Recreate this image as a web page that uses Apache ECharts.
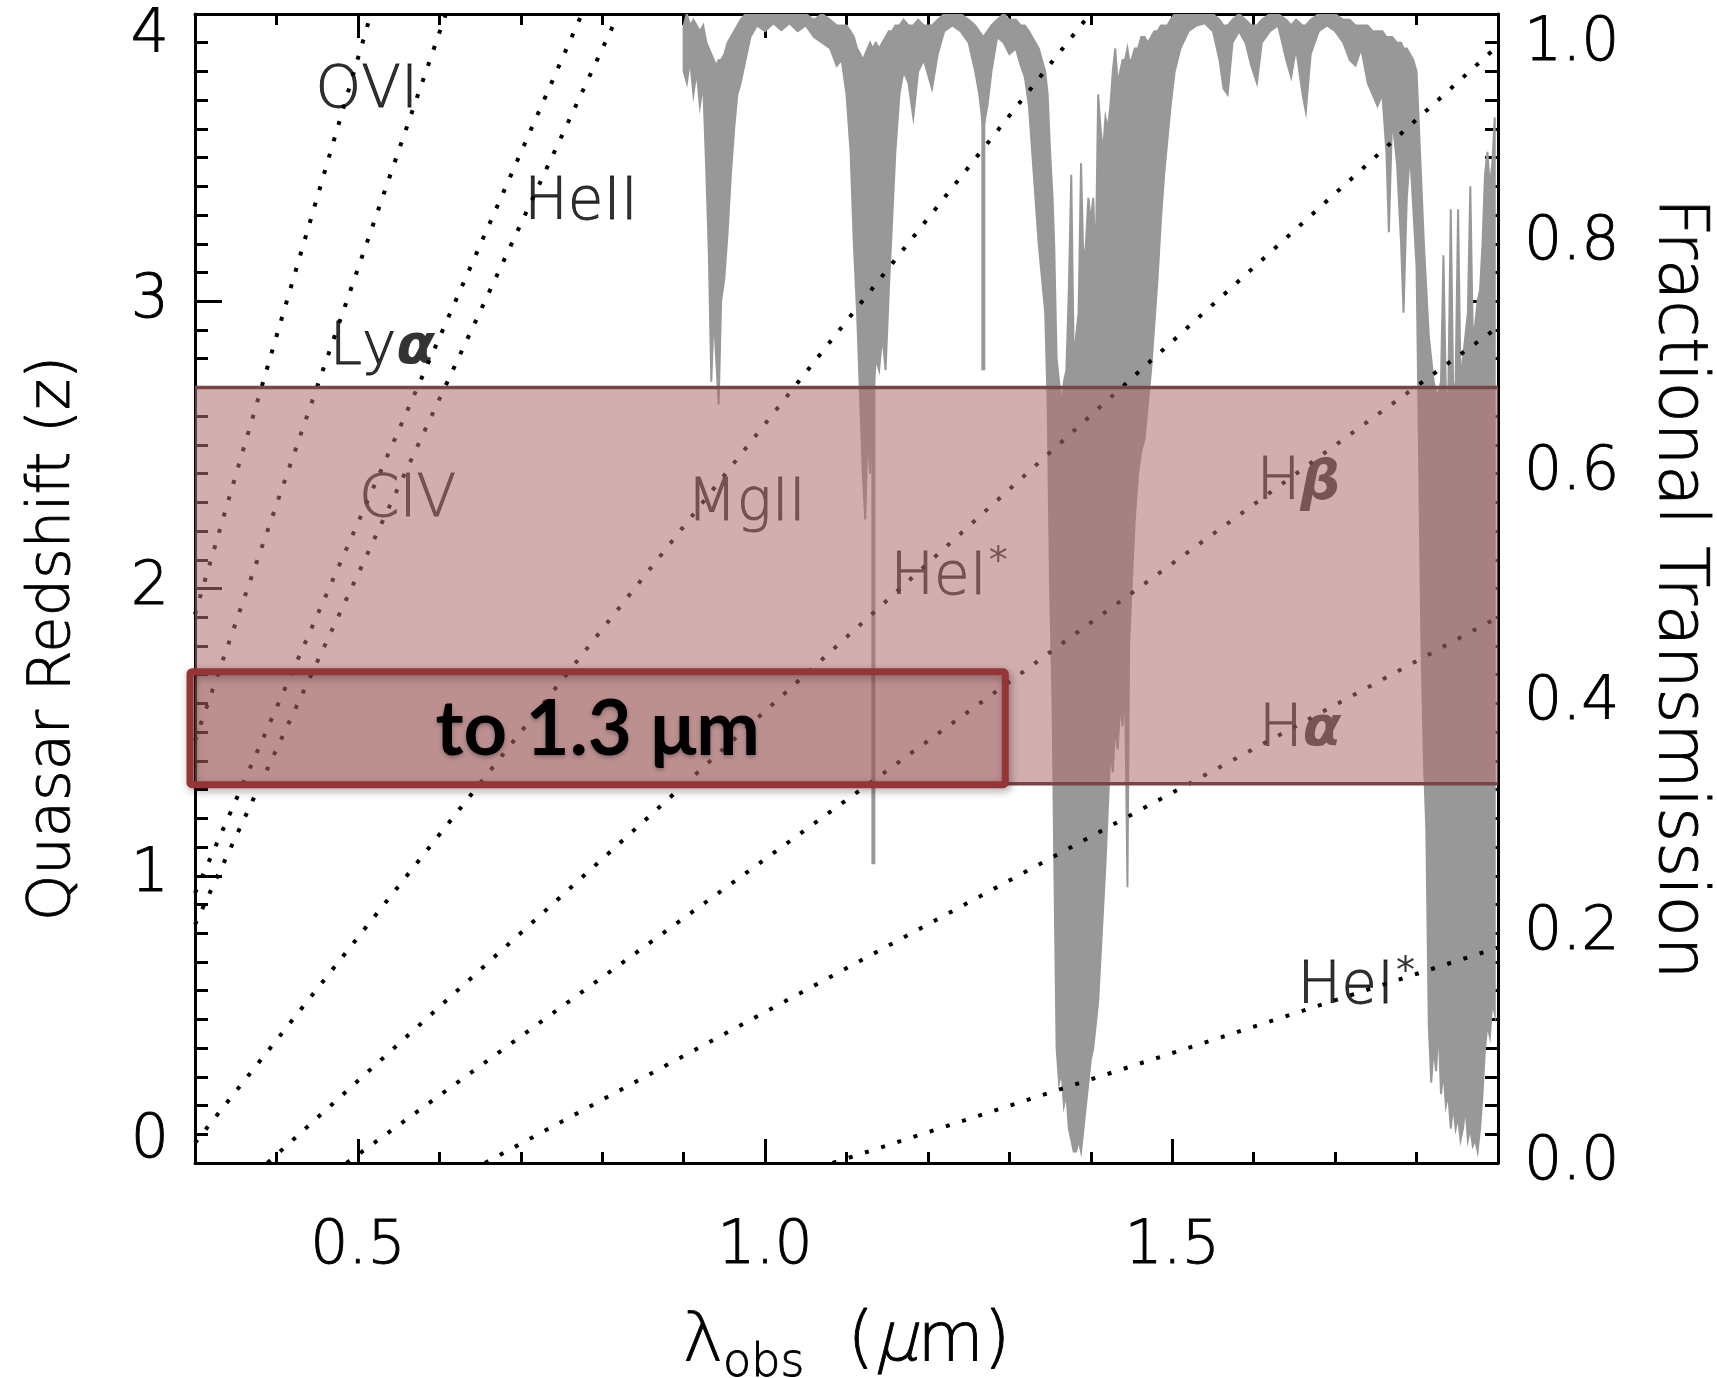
<!DOCTYPE html>
<html>
<head>
<meta charset="utf-8">
<script src="https://cdn.jsdelivr.net/npm/echarts@6.0.0/dist/echarts.min.js"></script>
<style>
  html, body { margin: 0; padding: 0; background: #fff; }
  #chart { width: 1717px; height: 1378px; }
</style>
</head>
<body>
<div id="chart"></div>
<script>
// atmospheric transmission: wavelength (um), upper and lower envelope
var specLam = [
  0.900, 0.904, 0.908, 0.912, 0.916, 0.920, 0.924, 0.928, 0.931, 0.934,
  0.937, 0.940, 0.943, 0.946, 0.950, 0.954, 0.958, 0.962, 0.966, 0.970,
  0.976, 0.982, 0.990, 1.000, 1.010, 1.020, 1.030, 1.040, 1.050, 1.060,
  1.070, 1.080, 1.088, 1.094, 1.100, 1.105, 1.109, 1.113, 1.117, 1.120,
  1.123, 1.126, 1.129, 1.132, 1.136, 1.140, 1.144, 1.148, 1.152, 1.156,
  1.160, 1.165, 1.170, 1.176, 1.182, 1.188, 1.195, 1.205, 1.212, 1.220,
  1.230, 1.240, 1.250, 1.258, 1.263, 1.268, 1.273, 1.278, 1.285, 1.293,
  1.300, 1.308, 1.314, 1.319, 1.324, 1.328, 1.332, 1.336, 1.340, 1.344,
  1.347, 1.350, 1.353, 1.355, 1.358, 1.361, 1.364, 1.367, 1.370, 1.373,
  1.376, 1.379, 1.382, 1.385, 1.388, 1.391, 1.394, 1.397, 1.400, 1.403,
  1.406, 1.409, 1.412, 1.415, 1.418, 1.421, 1.424, 1.427, 1.430, 1.433,
  1.436, 1.439, 1.442, 1.445, 1.447, 1.450, 1.454, 1.458, 1.462, 1.466,
  1.470, 1.474, 1.478, 1.482, 1.486, 1.490, 1.494, 1.498, 1.503, 1.510,
  1.520, 1.530, 1.540, 1.550, 1.558, 1.563, 1.568, 1.574, 1.582, 1.590,
  1.597, 1.604, 1.610, 1.620, 1.630, 1.640, 1.646, 1.652, 1.660, 1.664,
  1.670, 1.680, 1.690, 1.700, 1.710, 1.718, 1.725, 1.732, 1.740, 1.746,
  1.752, 1.758, 1.763, 1.766, 1.770, 1.776, 1.781, 1.784, 1.788, 1.792,
  1.796, 1.800, 1.803, 1.806, 1.809, 1.812, 1.815, 1.818, 1.821, 1.824,
  1.827, 1.830, 1.833, 1.836, 1.839, 1.842, 1.845, 1.848, 1.851, 1.854,
  1.857, 1.860, 1.863, 1.866, 1.869, 1.872, 1.875, 1.878, 1.881, 1.884,
  1.887, 1.890, 1.893, 1.896
];
var specHi = [
  0.99, 1.00, 0.99, 0.995, 0.99, 0.985, 0.99, 0.975, 0.97, 0.965,
  0.96, 0.955, 0.96, 0.96, 0.965, 0.975, 0.98, 0.985, 0.99, 0.995,
  1.0, 1.0, 1.0, 1.0, 1.0, 1.0, 1.0, 1.0, 1.0, 0.995,
  1.0, 0.995, 0.99, 0.99, 0.99, 0.985, 0.98, 0.97, 0.965, 0.96,
  0.965, 0.97, 0.975, 0.97, 0.975, 0.97, 0.975, 0.98, 0.985, 0.985,
  0.99, 0.99, 0.995, 0.99, 0.99, 0.995, 0.99, 0.99, 0.995, 1.0,
  1.0, 1.0, 0.995, 0.99, 0.985, 0.98, 0.985, 0.99, 0.995, 1.0,
  0.995, 0.995, 0.99, 0.99, 0.985, 0.98, 0.975, 0.97, 0.96, 0.95,
  0.93, 0.88, 0.84, 0.80, 0.70, 0.68, 0.66, 0.68, 0.69, 0.76,
  0.86, 0.70, 0.72, 0.74, 0.87, 0.78, 0.80, 0.84, 0.82, 0.84,
  0.78, 0.93, 0.90, 0.88, 0.91, 0.90, 0.92, 0.95, 0.97, 0.94,
  0.95, 0.96, 0.96, 0.97, 0.96, 0.96, 0.97, 0.97, 0.98, 0.98,
  0.975, 0.98, 0.985, 0.985, 0.99, 0.99, 0.99, 0.995, 1.0, 1.0,
  1.0, 1.0, 1.0, 1.0, 0.995, 0.99, 0.99, 0.995, 1.0, 0.995,
  0.99, 0.99, 0.995, 1.0, 1.0, 0.995, 0.99, 0.995, 0.99, 0.99,
  0.995, 1.0, 1.0, 1.0, 0.995, 0.995, 0.99, 0.99, 0.99, 0.985,
  0.985, 0.985, 0.98, 0.98, 0.98, 0.975, 0.975, 0.97, 0.97, 0.965,
  0.96, 0.95, 0.90, 0.85, 0.80, 0.76, 0.72, 0.70, 0.68, 0.67,
  0.67, 0.68, 0.79, 0.67, 0.67, 0.83, 0.67, 0.68, 0.83, 0.68,
  0.70, 0.72, 0.74, 0.85, 0.72, 0.73, 0.75, 0.76, 0.80, 0.86,
  0.88, 0.85, 0.87, 0.91
];
var specLo = [
  0.95, 0.94, 0.96, 0.93, 0.95, 0.92, 0.94, 0.86, 0.79, 0.68,
  0.74, 0.70, 0.66, 0.75, 0.77, 0.81, 0.86, 0.90, 0.93, 0.94,
  0.96, 0.98, 0.99, 0.985, 0.992, 0.986, 0.992, 0.985, 0.99, 0.98,
  0.975, 0.97, 0.955, 0.96, 0.93, 0.88, 0.80, 0.74, 0.66, 0.60,
  0.56, 0.64, 0.60, 0.66, 0.70, 0.69, 0.72, 0.69, 0.76, 0.82,
  0.88, 0.93, 0.95, 0.94, 0.91, 0.95, 0.96, 0.935, 0.965, 0.985,
  0.99, 0.985, 0.975, 0.95, 0.93, 0.90, 0.92, 0.95, 0.98, 0.975,
  0.965, 0.97, 0.955, 0.945, 0.92, 0.88, 0.84, 0.80, 0.77, 0.74,
  0.66, 0.50, 0.40, 0.27, 0.10, 0.07, 0.08, 0.05, 0.06, 0.03,
  0.02, 0.01, 0.01, 0.02, 0.01, 0.03, 0.05, 0.07, 0.09, 0.10,
  0.12, 0.14, 0.18, 0.22, 0.26, 0.31, 0.36, 0.34, 0.38, 0.36,
  0.40, 0.38, 0.42, 0.24, 0.45, 0.50, 0.56, 0.60, 0.62, 0.63,
  0.66, 0.69, 0.73, 0.77, 0.82, 0.86, 0.89, 0.92, 0.95, 0.97,
  0.985, 0.99, 0.992, 0.985, 0.96, 0.935, 0.93, 0.975, 0.985, 0.975,
  0.955, 0.94, 0.975, 0.985, 0.99, 0.96, 0.945, 0.97, 0.93, 0.915,
  0.965, 0.985, 0.99, 0.985, 0.975, 0.96, 0.955, 0.97, 0.94, 0.93,
  0.92, 0.93, 0.88, 0.81, 0.91, 0.87, 0.80, 0.74, 0.84, 0.88,
  0.83, 0.78, 0.62, 0.45, 0.35, 0.29, 0.12, 0.07, 0.10, 0.08,
  0.12, 0.06, 0.08, 0.05, 0.06, 0.03, 0.05, 0.03, 0.04, 0.02,
  0.03, 0.05, 0.02, 0.03, 0.015, 0.02, 0.01, 0.03, 0.06, 0.10,
  0.12, 0.11, 0.14, 0.13
];
// thin absorption spikes below the envelope
var spikeLam = [1.133, 1.268];
var spikeHi = [0.97, 0.98];
var spikeLo = [0.26, 0.69];

// redshift tracks of emission lines: start and end points
var lineNames = ['OVI', 'Lyα', 'CIV', 'HeII', 'MgII', 'HeI*', 'Hβ', 'Hα', 'HeI*'];
var lineLam0 = [0.30, 0.30, 0.30, 0.30, 0.30, 0.389, 0.486, 0.656, 1.083];
var lineZ0 = [1.91, 1.47, 0.94, 0.83, 0.07, 0, 0, 0, 0];
var lineLam1 = [0.516, 0.608, 0.775, 0.820, 1.399, 1.90, 1.90, 1.90, 1.90];
var lineZ1 = [4, 4, 4, 4, 4, 3.89, 2.91, 1.90, 0.75];

// line labels
var labelText = ['OVI', 'HeII', 'Lyα', 'CIV', 'MgII', 'HeI*', 'Hβ', 'Hα', 'HeI*'];
var labelLam = [0.511, 0.774, 0.530, 0.561, 0.977, 1.226, 1.655, 1.657, 1.726];
var labelZ = [3.73, 3.34, 2.835, 2.306, 2.29, 2.035, 2.363, 1.505, 0.61];

// shaded redshift band and the "to 1.3 um" box
var bandLam = [0.3, 1.9];
var bandZ = [1.32, 2.70];
var boxLam = [0.3, 1.295];
var boxZ = [1.317, 1.71];
var boxText = 'to 1.3 μm';

var xLabelValues = [0.5, 1.0, 1.5];

var FONT = "'DejaVu Sans Light', 'DejaVu Sans'";
var WEIGHT = 200;
var GREY = '#989898';
// thin outline so the light face prints as solid black
var INK = { color: '#000', textBorderColor: '#000', textBorderWidth: 0.9 };

var chart = echarts.init(document.getElementById('chart'));

function ink(o) {
  for (var k in INK) o[k] = INK[k];
  return o;
}

function richLabel(t) {
  var s = '';
  for (var i = 0; i < t.length; i++) {
    var c = t[i];
    if (c === 'α' || c === 'β') s += '{g|' + c + '}';
    else if (c === '*') s += '{sup|*}';
    else s += '{n|' + c + '}';
  }
  return s;
}

var textRich = {
  n: ink({ fontFamily: FONT, fontSize: 58, fontWeight: WEIGHT }),
  g: { fontFamily: 'DejaVu Sans', fontSize: 56, fontStyle: 'italic', fontWeight: 'bold', color: '#000' },
  sup: { fontFamily: 'DejaVu Sans', fontSize: 38, color: '#000', padding: [0, 0, 30, 2] }
};

function xAxisDef(pos, major) {
  return {
    type: 'value', position: pos, min: 0.3, max: 1.9,
    interval: major ? null : 0.1,
    axisLine: { show: !major, onZero: false, lineStyle: { color: '#000', width: 3 } },
    axisTick: {
      show: true, inside: true, length: major ? 24 : 11,
      customValues: major ? xLabelValues : undefined,
      lineStyle: { color: '#000', width: 3 }
    },
    axisLabel: { show: false },
    splitLine: { show: false }
  };
}

var xBottom = xAxisDef('bottom', false);
xBottom.axisLabel = ink({
  show: true, customValues: xLabelValues, margin: 54,
  formatter: function (v) { return v.toFixed(1); },
  fontFamily: FONT, fontWeight: WEIGHT, fontSize: 60
});
xBottom.name = '{n|λ}{s|obs}{n|  (}{i|μ}{n|m)}';
xBottom.nameLocation = 'middle';
xBottom.nameGap = 134;
xBottom.nameTextStyle = {
  rich: {
    n: ink({ fontFamily: FONT, fontWeight: WEIGHT, fontSize: 68 }),
    s: ink({ fontFamily: FONT, fontWeight: WEIGHT, fontSize: 46, padding: [44, 0, 0, 0] }),
    i: ink({ fontFamily: FONT, fontWeight: WEIGHT, fontStyle: 'italic', fontSize: 68 })
  }
};

function zAxisDef(pos) {
  return {
    type: 'value', position: pos, min: 0, max: 4, interval: 1,
    axisLine: { show: true, onZero: false, lineStyle: { color: '#000', width: 3 } },
    axisTick: { show: true, inside: true, length: 27, lineStyle: { color: '#000', width: 3 } },
    minorTick: { show: true, splitNumber: 10, length: 13, lineStyle: { color: '#000', width: 3 } },
    axisLabel: { show: false },
    splitLine: { show: false },
    minorSplitLine: { show: false }
  };
}

var zLeft = zAxisDef('left');
zLeft.axisLabel = ink({
  show: true, margin: 26, fontFamily: FONT, fontWeight: WEIGHT, fontSize: 60,
  lineHeight: 44, verticalAlignMinLabel: 'bottom', verticalAlignMaxLabel: 'top'
});
zLeft.name = 'Quasar Redshift (z)';
zLeft.nameLocation = 'middle';
zLeft.nameGap = 112;
zLeft.nameTextStyle = ink({ fontFamily: FONT, fontWeight: WEIGHT, fontSize: 59, padding: [0, 100, 0, 0] });

var transAxis = {
  type: 'value', position: 'right', min: 0, max: 1, interval: 0.2,
  axisLine: { show: false }, axisTick: { show: false }, splitLine: { show: false },
  axisLabel: ink({
    show: true, margin: 26, fontFamily: FONT, fontWeight: WEIGHT, fontSize: 60,
    formatter: function (v) { return v.toFixed(1); },
    verticalAlignMaxLabel: 'top'
  }),
  name: 'Fractional Transmission',
  nameLocation: 'middle', nameRotate: -90, nameGap: 146,
  nameTextStyle: ink({ fontFamily: FONT, fontWeight: WEIGHT, fontSize: 67 })
};

var series = [];

// transmission spectrum (grey)
series.push({
  type: 'custom', name: 'spectrum', xAxisIndex: 0, yAxisIndex: 2, z: 1, silent: true, clip: true,
  data: [[specLam[0], specHi[0]]],
  renderItem: function (params, api) {
    var pts = [];
    for (var i = 0; i < specLam.length; i++) pts.push(api.coord([specLam[i], specHi[i]]));
    for (var j = specLam.length - 1; j >= 0; j--) pts.push(api.coord([specLam[j], specLo[j]]));
    return { type: 'polygon', shape: { points: pts }, style: { fill: GREY, stroke: GREY, lineWidth: 2 } };
  }
});
series.push({
  type: 'custom', name: 'spikes', xAxisIndex: 0, yAxisIndex: 2, z: 1, silent: true, clip: true,
  data: spikeLam.map(function (l, i) { return [l, spikeHi[i], spikeLo[i]]; }),
  renderItem: function (params, api) {
    var a = api.coord([api.value(0), api.value(1)]);
    var b = api.coord([api.value(0), api.value(2)]);
    return { type: 'line', shape: { x1: a[0], y1: a[1], x2: b[0], y2: b[1] }, style: { stroke: GREY, lineWidth: 4 } };
  }
});

// dotted redshift tracks
lineNames.forEach(function (n, i) {
  series.push({
    type: 'line', name: n, xAxisIndex: 0, yAxisIndex: 0, z: 2, silent: true,
    showSymbol: false, symbol: 'none',
    data: [[lineLam0[i], lineZ0[i]], [lineLam1[i], lineZ1[i]]],
    lineStyle: { color: '#000', width: 4, type: [4, 13], cap: 'butt' }
  });
});

// labels
series.push({
  type: 'scatter', name: 'labels', xAxisIndex: 0, yAxisIndex: 0, z: 3, silent: true,
  symbolSize: 1, itemStyle: { color: 'rgba(0,0,0,0)' },
  data: labelText.map(function (t, i) { return { value: [labelLam[i], labelZ[i]], name: t }; }),
  label: {
    show: true, position: 'inside', align: 'center', verticalAlign: 'middle',
    formatter: function (p) { return richLabel(p.name); },
    rich: textRich
  }
});

// shaded band
series.push({
  type: 'custom', name: 'band', xAxisIndex: 0, yAxisIndex: 0, z: 5, silent: true, clip: false,
  data: [[bandLam[0], bandZ[0], bandLam[1], bandZ[1]]],
  renderItem: function (params, api) {
    var p0 = api.coord([api.value(0), api.value(3)]);
    var p1 = api.coord([api.value(2), api.value(1)]);
    return {
      type: 'group', children: [
        { type: 'rect', shape: { x: p0[0], y: p0[1], width: p1[0] - p0[0], height: p1[1] - p0[1] },
          style: { fill: 'rgba(176,110,110,0.56)' } },
        { type: 'line', shape: { x1: p0[0], y1: p0[1], x2: p1[0], y2: p0[1] }, style: { stroke: '#774646', lineWidth: 3.5 } },
        { type: 'line', shape: { x1: p0[0], y1: p1[1], x2: p1[0], y2: p1[1] }, style: { stroke: '#774646', lineWidth: 3.5 } }
      ]
    };
  }
});

// "to 1.3 um" box
series.push({
  type: 'custom', name: 'box', xAxisIndex: 0, yAxisIndex: 0, z: 6, silent: true, clip: false,
  data: [[boxLam[0], boxZ[0], boxLam[1], boxZ[1]]],
  renderItem: function (params, api) {
    var p0 = api.coord([api.value(0), api.value(3)]);
    var p1 = api.coord([api.value(2), api.value(1)]);
    p0[0] -= 5;
    return {
      type: 'group', children: [
        { type: 'rect', shape: { x: p0[0], y: p0[1], width: p1[0] - p0[0], height: p1[1] - p0[1], r: 2 },
          style: { fill: 'rgba(150,55,55,0.17)', stroke: '#963535', lineWidth: 7,
                   shadowBlur: 8, shadowOffsetX: 2, shadowOffsetY: 3, shadowColor: 'rgba(0,0,0,0.35)' } },
        { type: 'text', x: (p0[0] + p1[0]) / 2, y: (p0[1] + p1[1]) / 2 + 2,
          style: { text: boxText, fill: '#000', font: 'bold 76px Lato', align: 'center', verticalAlign: 'middle',
                   textShadowBlur: 4, textShadowOffsetY: 2, textShadowColor: 'rgba(0,0,0,0.3)' } }
      ]
    };
  }
});

chart.setOption({
  backgroundColor: '#fff',
  animation: false,
  grid: { left: 195, right: 219, top: 14, bottom: 215, outerBoundsMode: 'none' },
  xAxis: [xBottom, xAxisDef('bottom', true), xAxisDef('top', false), xAxisDef('top', true)],
  yAxis: [zLeft, zAxisDef('right'), transAxis],
  series: series
});
</script>
</body>
</html>
